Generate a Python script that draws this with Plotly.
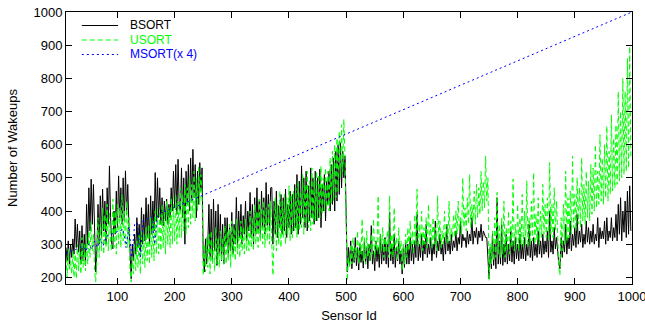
import plotly.graph_objects as go

# Sensor ids (every 2nd sensor, 10 .. 998)
sensor_ids = list(range(10, 1000, 2))

bsort = [
    290, 250, 310, 240, 300, 260, 316, 270, 376, 290, 360, 276, 340, 240, 356, 250, 330, 236, 420, 300,
    470, 340, 496, 360, 480, 300, 216, 280, 420, 300, 446, 320, 466, 340, 430, 300, 470, 360, 536, 380,
    300, 286, 400, 330, 460, 350, 506, 380, 470, 360, 500, 370, 521, 390, 480, 360, 250, 196, 300, 250,
    330, 270, 380, 290, 360, 280, 410, 300, 390, 310, 440, 320, 420, 300, 446, 330, 430, 340, 516, 370,
    500, 380, 470, 360, 440, 356, 430, 370, 436, 360, 420, 380, 470, 400, 520, 410, 540, 390, 556, 420,
    400, 530, 380, 500, 300, 520, 420, 540, 400, 560, 430, 586, 440, 540, 380, 520, 420, 546, 460, 530,
    260, 216, 316, 240, 300, 420, 260, 406, 250, 436, 280, 400, 236, 420, 270, 390, 250, 360, 240, 380,
    300, 380, 260, 350, 280, 396, 270, 360, 300, 441, 290, 400, 320, 420, 300, 386, 330, 430, 310, 400,
    340, 456, 320, 420, 300, 440, 330, 470, 340, 430, 320, 460, 350, 440, 330, 486, 356, 450, 340, 470,
    471, 300, 430, 330, 460, 320, 416, 350, 450, 330, 440, 340, 466, 320, 420, 350, 460, 330, 450, 340,
    480, 350, 510, 330, 490, 360, 536, 380, 500, 350, 520, 340, 476, 370, 530, 380, 500, 360, 520, 370,
    500, 380, 526, 350, 480, 400, 510, 370, 490, 420, 520, 400, 540, 420, 560, 400, 580, 430, 600, 450,
    606, 470, 580, 500, 566, 350, 216, 290, 236, 310, 226, 280, 245, 320, 235, 290, 222, 300, 245, 280,
    228, 310, 240, 290, 226, 300, 250, 356, 240, 280, 220, 310, 248, 290, 230, 330, 240, 300, 250, 320,
    240, 300, 230, 396, 250, 300, 240, 330, 230, 290, 250, 310, 240, 280, 210, 290, 230, 310, 240, 300,
    240, 320, 250, 300, 240, 310, 260, 390, 250, 300, 260, 330, 250, 310, 270, 360, 260, 300, 270, 320,
    250, 300, 270, 370, 260, 310, 280, 330, 270, 300, 250, 320, 270, 360, 280, 310, 270, 330, 280, 310,
    290, 340, 280, 320, 300, 370, 290, 330, 310, 320, 290, 340, 300, 330, 310, 380, 300, 340, 320, 350,
    300, 340, 320, 360, 310, 340, 330, 320, 320, 266, 196, 290, 226, 330, 236, 300, 226, 440, 240, 310,
    240, 360, 236, 300, 246, 330, 240, 300, 250, 340, 246, 310, 240, 320, 256, 300, 250, 330, 256, 300,
    256, 320, 250, 300, 266, 360, 260, 310, 250, 320, 266, 300, 260, 340, 270, 310, 260, 330, 270, 310,
    276, 340, 260, 400, 276, 310, 270, 350, 286, 320, 270, 240, 226, 320, 260, 310, 276, 360, 270, 320,
    286, 370, 280, 330, 296, 350, 290, 390, 300, 340, 306, 360, 290, 330, 300, 370, 306, 350, 300, 340,
    306, 360, 300, 330, 310, 380, 290, 350, 316, 340, 316, 370, 300, 380, 310, 340, 320, 380, 310, 350,
    320, 390, 310, 420, 330, 440, 310, 400, 336, 430, 320, 460, 330, 476, 340,
]

usort = [
    260, 200, 286, 220, 250, 210, 280, 200, 270, 196, 300, 220, 290, 210, 320, 230, 300, 220, 330, 240,
    340, 260, 366, 280, 330, 220, 186, 250, 380, 260, 360, 280, 410, 270, 390, 290, 420, 280, 396, 300,
    280, 436, 290, 400, 270, 420, 300, 410, 290, 450, 310, 400, 300, 430, 290, 380, 220, 186, 260, 210,
    300, 220, 310, 230, 330, 210, 340, 240, 330, 230, 350, 250, 360, 240, 380, 260, 370, 250, 400, 270,
    410, 270, 390, 280, 420, 290, 400, 270, 430, 300, 410, 290, 440, 300, 420, 310, 450, 300, 430, 320,
    470, 320, 450, 340, 480, 330, 470, 350, 500, 360, 480, 380, 520, 370, 500, 400, 536, 420, 510, 440,
    206, 300, 216, 320, 230, 330, 210, 340, 240, 310, 220, 350, 240, 320, 230, 340, 250, 320, 240, 356,
    240, 340, 250, 360, 230, 370, 260, 350, 250, 376, 270, 340, 260, 370, 280, 350, 270, 376, 280, 350,
    280, 400, 290, 380, 280, 420, 300, 400, 290, 436, 310, 410, 300, 430, 290, 410, 310, 420, 300, 430,
    300, 206, 330, 440, 280, 420, 300, 460, 290, 430, 320, 450, 300, 440, 330, 476, 310, 450, 320, 460,
    340, 470, 320, 490, 340, 460, 350, 510, 330, 480, 360, 520, 350, 490, 340, 530, 360, 500, 370, 520,
    370, 510, 380, 536, 390, 500, 400, 530, 410, 520, 400, 560, 420, 580, 430, 600, 440, 620, 460, 640,
    500, 660, 520, 676, 560, 420, 190, 260, 230, 300, 240, 320, 250, 290, 260, 340, 240, 310, 270, 376,
    250, 320, 240, 340, 260, 300, 250, 330, 270, 376, 260, 310, 280, 446, 270, 330, 280, 350, 260, 320,
    280, 340, 260, 446, 270, 330, 260, 410, 280, 320, 250, 350, 270, 310, 220, 300, 240, 330, 260, 350,
    280, 370, 290, 340, 270, 390, 300, 466, 290, 360, 300, 400, 280, 350, 300, 380, 290, 420, 300, 360,
    290, 380, 300, 350, 280, 446, 310, 370, 290, 340, 300, 400, 310, 360, 300, 430, 310, 350, 320, 390,
    320, 400, 330, 430, 340, 380, 330, 500, 350, 410, 340, 440, 360, 510, 350, 420, 370, 460, 360, 480,
    380, 470, 390, 520, 400, 490, 410, 566, 430, 500, 190, 300, 240, 340, 250, 380, 260, 456, 270, 360,
    260, 380, 270, 430, 260, 350, 280, 400, 270, 370, 290, 496, 280, 360, 290, 420, 280, 380, 300, 450,
    290, 400, 300, 491, 290, 380, 300, 430, 310, 516, 300, 390, 310, 440, 300, 400, 320, 480, 330, 420,
    320, 440, 310, 546, 330, 420, 320, 470, 340, 430, 300, 230, 206, 380, 280, 420, 300, 520, 310, 440,
    320, 460, 330, 566, 350, 450, 340, 500, 360, 470, 350, 560, 370, 480, 360, 520, 380, 490, 370, 540,
    390, 530, 400, 600, 410, 520, 420, 630, 430, 560, 420, 600, 440, 656, 430, 580, 450, 690, 460, 620,
    470, 660, 480, 760, 490, 700, 500, 800, 510, 760, 520, 860, 530, 896, 560,
]

msort_ids = list(range(10, 251, 5)) + [500, 750, 1000]
msort_x4 = [
    272, 276, 279, 283, 287, 290, 294, 280, 301, 285,
    309, 290, 316, 295, 323, 327, 331, 334, 338, 342,
    345, 290, 353, 260, 360, 364, 260, 371, 375, 378,
    382, 300, 389, 393, 397, 400, 404, 408, 411, 415,
    419, 422, 426, 430, 433, 437, 441, 444, 448,
    632, 816, 1000,
]

series_names = ["BSORT", "USORT", "MSORT(x 4)"]
series_colors = ["#000000", "#00ff00", "#0000ff"]
series_dash = ["solid", "5px,3px", "2px,3px"]

x_ticks = [100, 200, 300, 400, 500, 600, 700, 800, 900, 1000]
y_ticks = [200, 300, 400, 500, 600, 700, 800, 900, 1000]

FONT = "Liberation Sans, Arial, Helvetica, sans-serif"

fig = go.Figure()
for xs, ys, nm, col, dsh in zip(
    [sensor_ids, sensor_ids, msort_ids],
    [bsort, usort, msort_x4],
    series_names, series_colors, series_dash,
):
    fig.add_trace(go.Scatter(
        x=xs, y=ys, mode="lines", name=nm, showlegend=False,
        line=dict(color=col, width=1, dash=dsh),
    ))

# gnuplot-style key (top left, inside the plot)
key_y = [0.9504, 0.8971, 0.8438]
for nm, col, dsh, ky in zip(series_names, series_colors, series_dash, key_y):
    fig.add_shape(type="line", xref="paper", yref="paper",
                  x0=0.028, x1=0.092, y0=ky, y1=ky,
                  line=dict(color=col, width=1.2, dash=dsh))
    fig.add_annotation(xref="paper", yref="paper", x=0.111, y=ky,
                       xanchor="left", yanchor="middle", showarrow=False,
                       borderpad=0,
                       text=nm, font=dict(family=FONT, size=12, color=col))

axis_common = dict(
    showline=True, linecolor="black", linewidth=1, mirror="allticks",
    ticks="inside", ticklen=6, tickcolor="black", showgrid=False,
    zeroline=False, ticklabeloverflow="allow", automargin=False,
    tickfont=dict(family=FONT, size=13, color="black"),
)

fig.update_layout(
    width=645, height=326,
    margin=dict(l=66, r=13, t=12, b=42),
    paper_bgcolor="white", plot_bgcolor="white",
    font=dict(family=FONT, size=13, color="black"),
    showlegend=False,
    xaxis=dict(
        range=[10, 1000], tickvals=x_ticks,
        title=dict(text="Sensor Id", font=dict(family=FONT, size=13), standoff=8),
        **axis_common,
    ),
    yaxis=dict(
        range=[180, 1000], tickvals=y_ticks,
        title=dict(text="Number of Wakeups", font=dict(family=FONT, size=13), standoff=12),
        **axis_common,
    ),
)

fig.write_html("out.html")
